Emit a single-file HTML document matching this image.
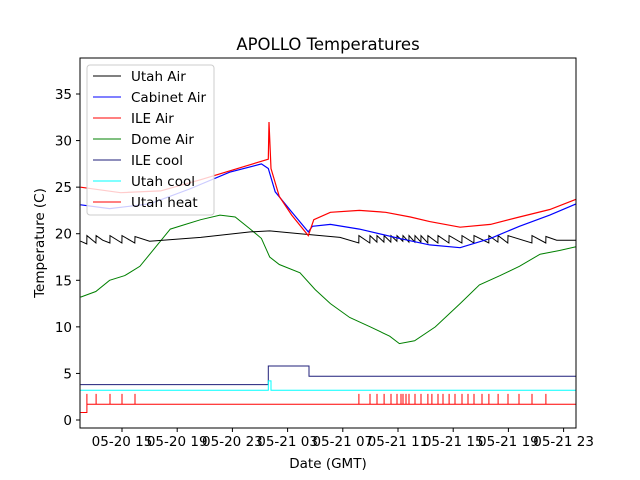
<!DOCTYPE html>
<html><head><meta charset="utf-8"><style>
body{margin:0;background:#fff}
svg{display:block;font-family:"DejaVu Sans","Liberation Sans",sans-serif}
</style></head><body>
<svg id="chart" width="640" height="480" xmlns="http://www.w3.org/2000/svg">
<rect width="640" height="480" fill="#fff"/>
<text x="328" y="50" text-anchor="middle" font-size="16.5">APOLLO Temperatures</text>
<g id="marks"></g>
<rect x="80" y="58" width="496" height="370" fill="none" stroke="#000" stroke-width="1"/>
<g id="axes"></g>
<text x="328" y="468" text-anchor="middle" font-size="13.5">Date (GMT)</text>
<text transform="translate(44,243) rotate(-90)" text-anchor="middle" font-size="13.5">Temperature (C)</text>
<g id="legend"></g>
</svg>
<script>
const xTickHours=[15,19,23,27,31,35,39,43,47];
const xTickLabels=["05-20 15","05-20 19","05-20 23","05-21 03","05-21 07","05-21 11","05-21 15","05-21 19","05-21 23"];
const yTicks=[0,5,10,15,20,25,30,35];
const seriesNames=["Utah Air","Cabinet Air","ILE Air","Dome Air","ILE cool","Utah cool","Utah heat"];
const seriesColors=["#000000","#0000ff","#ff0000","#008000","#1f1f7a","#00ffff","#ff0000"];

const ileAirT=[12.0,14.9,17.8,20.7,23.6,25.6,25.65,25.8,26.4,27.3,28.5,28.9,30.1,32.2,34.1,35.9,37.3,39.5,41.7,43.8,46.0,47.9];
const ileAirV=[25,24.4,24.6,25.8,27.1,28,32,27,24,22,19.8,21.5,22.3,22.5,22.3,21.8,21.3,20.7,21,21.8,22.6,23.7];
const cabT=[12.0,14.1,17.0,19.9,22.8,25.1,25.6,26.1,27.2,28.5,28.8,30.1,32.2,35.1,37.3,39.5,41.7,43.8,46.0,47.9];
const cabV=[23.1,22.7,23.2,24.8,26.6,27.5,27,24.5,22.5,20.2,20.8,21,20.5,19.5,18.8,18.5,19.5,20.8,22,23.2];
const utahAirT=[12.0,12.45,12.46,13.11,13.12,13.6,14.12,14.13,14.99,15.0,15.93,15.94,17.0,20.7,24.3,25.7,27.9,30.8,32.16,32.17,32.96,32.97,33.47,33.48,33.98,33.99,34.48,34.49,34.92,34.93,35.35,35.36,35.79,35.8,36.22,36.23,36.66,36.67,37.16,37.17,37.89,37.9,38.69,38.7,39.63,39.64,40.5,40.51,41.58,41.59,42.24,42.25,42.96,42.97,44.7,44.71,45.71,45.72,46.5,47.9];
const utahAirV=[19.2,18.9,19.8,19.0,19.8,19.3,19.0,19.8,19.0,19.8,19.0,19.7,19.2,19.6,20.2,20.3,20.0,19.6,19.0,19.8,19.0,19.8,19.1,19.8,19.1,19.8,19.1,19.8,19.2,19.8,19.2,19.8,19.1,19.8,19.1,19.8,19.1,19.8,19.0,19.8,19.0,19.8,19.0,19.8,19.0,19.8,19.0,19.8,19.0,19.8,19.1,19.8,19.0,19.8,19.0,19.8,19.0,19.7,19.3,19.3];
const domeT=[12.0,13.1,14.1,15.2,16.3,17.4,18.5,19.6,20.7,22.1,23.2,24.3,25.1,25.7,26.4,27.9,29.0,30.1,31.5,33.0,34.4,35.1,36.2,37.7,39.5,40.9,42.4,43.8,45.3,46.7,47.9];
const domeV=[13.2,13.8,15,15.5,16.5,18.5,20.5,21,21.5,22,21.8,20.5,19.5,17.5,16.7,15.8,14,12.5,11,10,9,8.2,8.5,10,12.5,14.5,15.5,16.5,17.8,18.2,18.6];
const ileCoolT=[12.0,25.6,25.6,28.55,28.55,47.9];
const ileCoolV=[3.8,3.8,5.8,5.8,4.7,4.7];
const utahCoolT=[12.0,25.6,25.6,25.8,25.8,47.9];
const utahCoolV=[3.2,3.2,4.2,4.2,3.2,3.2];
const heatSpikes=[12.46,13.12,14.13,15,15.94,32.17,32.97,33.48,33.99,34.49,34.93,35.22,35.36,35.58,35.8,36.23,36.67,37.17,37.46,37.9,38.26,38.7,39.13,39.64,40.07,40.51,41.09,41.59,42.25,42.97,43.77,44.71,45.72];
const heatBase=1.7, heatStart=0.8, heatSpikeTop=2.8;

const x=h=>122+(h-15)*13.8;
const y=v=>420-v*9.314;
const NS="http://www.w3.org/2000/svg";
const marks=document.getElementById('marks');
function line(ts,vs,color,name,w){
  const p=document.createElementNS(NS,'polyline');
  p.setAttribute('points',ts.map((t,i)=>x(t).toFixed(1)+','+y(vs[i]).toFixed(1)).join(' '));
  p.setAttribute('fill','none');p.setAttribute('stroke',color);p.setAttribute('stroke-width',w||1);
  
  
  marks.appendChild(p);
}
line(domeT,domeV,seriesColors[3],'dome-air-line');
line(utahAirT,utahAirV,seriesColors[0],'utah-air-line');
line(cabT,cabV,seriesColors[1],'cabinet-air-line',1.2);
line(ileAirT,ileAirV,seriesColors[2],'ile-air-line',1.2);
line(ileCoolT,ileCoolV,seriesColors[4],'ile-cool-line');
line(utahCoolT,utahCoolV,seriesColors[5],'utah-cool-line');
// utah heat
(function(){
  const ts=[12.0,heatSpikes[0],heatSpikes[0]];const vs=[heatStart,heatStart,heatBase];
  heatSpikes.forEach((h,i)=>{if(i>0){ts.push(h,h,h);vs.push(heatBase,heatSpikeTop,heatBase);}else{ts.push(h,h);vs.push(heatSpikeTop,heatBase);}});
  ts.push(47.9);vs.push(heatBase);
  line(ts,vs,seriesColors[6],'utah-heat-line');
})();

const axes=document.getElementById('axes');
xTickHours.forEach((h,i)=>{
  const t=document.createElementNS(NS,'line');
  t.setAttribute('x1',x(h));t.setAttribute('x2',x(h));t.setAttribute('y1',428);t.setAttribute('y2',432);t.setAttribute('stroke','#000');
  
  
  axes.appendChild(t);
  const l=document.createElementNS(NS,'text');
  l.setAttribute('x',x(h));l.setAttribute('y',446);l.setAttribute('text-anchor','middle');l.setAttribute('font-size','13.5');
  l.textContent=xTickLabels[i];
  
  
  axes.appendChild(l);
});
yTicks.forEach(v=>{
  const t=document.createElementNS(NS,'line');
  t.setAttribute('x1',76);t.setAttribute('x2',80);t.setAttribute('y1',y(v));t.setAttribute('y2',y(v));t.setAttribute('stroke','#000');
  
  
  axes.appendChild(t);
  const l=document.createElementNS(NS,'text');
  l.setAttribute('x',72);l.setAttribute('y',y(v)+5);l.setAttribute('text-anchor','end');l.setAttribute('font-size','13.5');
  l.textContent=v;
  
  
  axes.appendChild(l);
});

const lg=document.getElementById('legend');
const box=document.createElementNS(NS,'rect');
box.setAttribute('x',87);box.setAttribute('y',65);box.setAttribute('width',127);box.setAttribute('height',150);box.setAttribute('rx',3);
box.setAttribute('fill','#fff');box.setAttribute('fill-opacity','0.8');box.setAttribute('stroke','#ccc');


lg.appendChild(box);
seriesNames.forEach((n,i)=>{
  const yy=76+i*21;
  const l=document.createElementNS(NS,'line');
  l.setAttribute('x1',93);l.setAttribute('x2',121);l.setAttribute('y1',yy);l.setAttribute('y2',yy);l.setAttribute('stroke',seriesColors[i]);
  
  
  lg.appendChild(l);
  const t=document.createElementNS(NS,'text');
  t.setAttribute('x',131);t.setAttribute('y',yy+5);t.setAttribute('font-size','13.5');
  t.textContent=n;
  
  
  lg.appendChild(t);
});
</script>
</body></html>
